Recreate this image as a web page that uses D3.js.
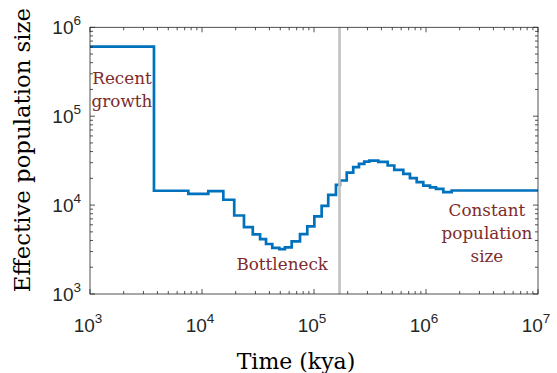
<!DOCTYPE html>
<html><head><meta charset="utf-8">
<script src="https://cdn.jsdelivr.net/npm/d3@7"></script>
<style>html,body{margin:0;padding:0;background:#fff;}svg{display:block;}</style>
</head><body>
<svg id="chart" width="557" height="373"></svg>
<script>
// Segment start times (kya), last entry is the end of the final segment
const timeBreaks = [1e3, 3725, 7550, 11380, 15500, 19400, 23700, 28400, 33000, 37300, 42400, 49000, 55000, 63200, 75000, 87100, 100700, 117000, 134000, 157000, 170600, 196000, 224000, 252000, 281000, 312000, 375000, 455000, 521000, 627000, 719000, 826000, 946000, 1086000, 1228000, 1428000, 1695000, 1e7];
// Effective population size for each segment
const popSize = [605000, 14500, 13400, 14350, 11480, 7640, 5660, 4680, 4150, 3650, 3310, 3190, 3340, 3900, 4720, 5750, 7450, 9820, 13060, 16900, 18900, 23200, 26700, 29100, 30900, 31700, 30700, 27900, 24900, 22500, 20100, 18100, 16600, 15800, 15200, 14000, 14600];
const markerTime = [169000];
const xTickExps = [3, 4, 5, 6, 7];
const yTickExps = [3, 4, 5, 6];
const annotations = [
  {lines: ["Recent", "growth"], t: 1.93e3, n: 2.3e5},
  {lines: ["Bottleneck"], t: 5.2e4, n: 1.84e3},
  {lines: ["Constant", "population", "size"], t: 3.5e6, n: 7.5e3}
];

const svg = d3.select("#chart");
const L = 90, R = 538, T = 27.3, B = 294;
const x = d3.scaleLog().domain([1e3, 1e7]).range([L, R]);
const y = d3.scaleLog().domain([1e3, 1e6]).range([B, T]);
const axisColor = "#262626";

// data points for stairs
const pts = popSize.map((n, i) => [timeBreaks[i], n]);
pts.push([timeBreaks[timeBreaks.length - 1], popSize[popSize.length - 1]]);

const line = d3.line().x(d => x(d[0])).y(d => y(d[1])).curve(d3.curveStepAfter);
svg.append("path").datum(pts).attr("d", line)
  .attr("fill", "none").attr("stroke", "#0072BD").attr("stroke-width", 2.7)
  .attr("stroke-linejoin", "miter");

markerTime.forEach(t => {
  svg.append("line").attr("x1", x(t)).attr("x2", x(t)).attr("y1", T).attr("y2", B)
    .attr("stroke", "#c0c0c0").attr("stroke-width", 2.6);
});

// minor/major tick values
function logTicks(lo, hi) {
  const out = [];
  for (let e = lo; e < hi; e++) for (let m = 1; m < 10; m++) out.push({v: m * Math.pow(10, e), major: m === 1});
  out.push({v: Math.pow(10, hi), major: true});
  return out;
}
const xt = logTicks(3, 7), yt = logTicks(3, 6);
const g = svg.append("g").attr("stroke", axisColor).attr("stroke-width", 0.8).attr("fill", "none");
xt.forEach(d => {
  const len = d.major ? 5 : 3, px = x(d.v);
  g.append("line").attr("x1", px).attr("x2", px).attr("y1", B).attr("y2", B - len);
  g.append("line").attr("x1", px).attr("x2", px).attr("y1", T).attr("y2", T + len);
});
yt.forEach(d => {
  const len = d.major ? 5 : 3, py = y(d.v);
  g.append("line").attr("x1", L).attr("x2", L + len).attr("y1", py).attr("y2", py);
  g.append("line").attr("x1", R).attr("x2", R - len).attr("y1", py).attr("y2", py);
});
g.append("rect").attr("x", L).attr("y", T).attr("width", R - L).attr("height", B - T);

// tick labels
const tickFont = "'Liberation Sans', Arial, sans-serif";
xTickExps.forEach(e => {
  const t = svg.append("text").attr("x", x(Math.pow(10, e)) - 2).attr("y", 332)
    .attr("text-anchor", "middle").attr("font-family", tickFont).attr("font-size", 19).attr("fill", axisColor);
  t.append("tspan").text("10");
  t.append("tspan").attr("dy", -9).attr("font-size", 13.5).text(e);
});
yTickExps.forEach(e => {
  const t = svg.append("text").attr("x", 81).attr("y", y(Math.pow(10, e)) + 7)
    .attr("text-anchor", "end").attr("font-family", tickFont).attr("font-size", 19).attr("fill", axisColor);
  t.append("tspan").text("10");
  t.append("tspan").attr("dy", -9).attr("font-size", 13.5).text(e);
});

// axis titles
const serif = "'DejaVu Serif', serif";
svg.append("text").attr("x", 296).attr("y", 369).attr("text-anchor", "middle")
  .attr("font-family", serif).attr("font-size", 22).attr("fill", "#000").text("Time (kya)");
svg.append("text").attr("transform", `translate(30,150) rotate(-90)`).attr("text-anchor", "middle")
  .attr("font-family", serif).attr("font-size", 22.8).attr("fill", "#000").text("Effective population size");

// annotations
annotations.forEach(a => {
  const t = svg.append("text").attr("x", x(a.t)).attr("y", y(a.n)).attr("text-anchor", "middle")
    .attr("font-family", serif).attr("font-size", 16.8).attr("fill", "#7e2b2b");
  a.lines.forEach((s, i) => t.append("tspan").attr("x", x(a.t)).attr("dy", i === 0 ? 0 : 23).text(s));
});
</script>
</body></html>
